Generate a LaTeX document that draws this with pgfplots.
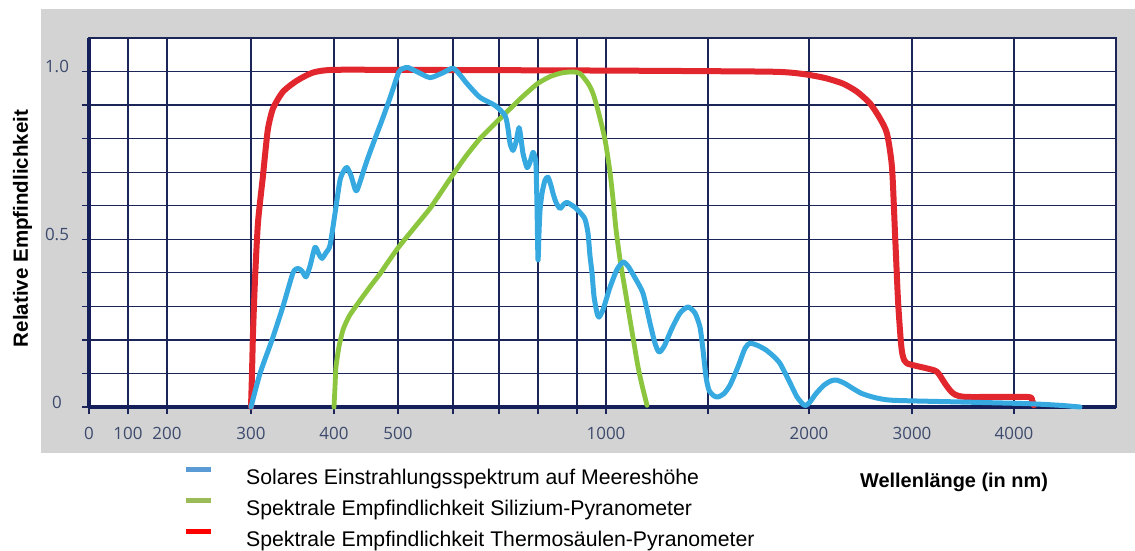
\documentclass[border=0pt]{standalone}
\usepackage{pgfplots}
\usepackage{pgfplotstable}
\pgfplotsset{compat=1.18}
\usepackage{fontspec}
\setmainfont{Liberation Sans}
\newfontfamily\tickfont{Open Sans}
\definecolor{bggray}{HTML}{D3D3D4}
\definecolor{navy}{HTML}{1B2557}
\definecolor{axnavy}{HTML}{15205A}
\definecolor{ticktxt}{HTML}{3C4A6C}
\definecolor{cred}{HTML}{E2262E}
\definecolor{cblue}{HTML}{37A9E1}
\definecolor{cgreen}{HTML}{8CC63F}
\definecolor{lblue}{HTML}{5B9BD5}
\definecolor{lgreen}{HTML}{9BBB59}
\definecolor{lred}{HTML}{FF0000}

% x = horizontal position on the (non-linear) wavelength scale, y = relative value
\pgfplotstableread{
pos val
251 0
252 0.1
253 0.22
255 0.38
258 0.55
263 0.69
265 0.75
268 0.83
273 0.89
283 0.94
297 0.973
313 0.997
333 1.005
400 1.005
600 1.003
760 1.0
790 0.997
809 0.99
826 0.98
843 0.964
857 0.94
870 0.905
880 0.86
887 0.815
892 0.714
895 0.518
898 0.318
901 0.19
903 0.15
907 0.13
927 0.115
937 0.105
945 0.07
950 0.05
955 0.037
967 0.03
1027 0.03
1032 0.02
1034 0.005
}\redtab

\pgfplotstableread{
pos val
251 0
260 0.1
272 0.2
283 0.3
293 0.4
298 0.413
302 0.405
306 0.388
310 0.42
315 0.476
319 0.455
322 0.443
326 0.46
330 0.482
335 0.577
340 0.676
344 0.705
347 0.714
351 0.69
355 0.65
357 0.646
361 0.68
367 0.735
375 0.8
383 0.863
391 0.93
399 1.0
404 1.01
408 1.012
418 0.998
430 0.982
442 0.995
453 1.01
460 0.99
467 0.964
480 0.923
495 0.899
505 0.869
508 0.83
510 0.786
513 0.765
516 0.79
519 0.833
521 0.8
523 0.756
527 0.714
530 0.73
533 0.759
535 0.745
536 0.72
537 0.6
538 0.438
539 0.52
540 0.586
542 0.637
545 0.676
548 0.685
551 0.66
553 0.637
556 0.61
560 0.592
564 0.605
567 0.61
571 0.603
575 0.595
580 0.58
585 0.56
588 0.518
590 0.45
592 0.4
594 0.33
597 0.28
599 0.268
603 0.29
610 0.357
617 0.41
623 0.432
628 0.42
635 0.385
643 0.339
650 0.25
655 0.19
659 0.164
664 0.18
672 0.235
680 0.28
688 0.298
695 0.28
700 0.238
703 0.17
706 0.09
709 0.05
714 0.033
718 0.03
724 0.04
730 0.065
738 0.12
745 0.175
750 0.19
758 0.183
766 0.17
774 0.15
780 0.13
787 0.09
792 0.06
797 0.03
803 0.008
806 0.005
810 0.015
816 0.04
824 0.065
831 0.078
837 0.08
845 0.07
853 0.055
862 0.04
875 0.028
893 0.02
960 0.015
1027 0.01
1060 0.005
1080 0
}\bluetab

\pgfplotstableread{
pos val
334 0
335 0.06
336 0.12
339 0.18
343 0.23
349 0.27
357 0.305
365 0.338
373 0.37
380 0.397
388 0.432
399 0.478
415 0.537
430 0.592
441 0.64
453 0.693
466 0.748
480 0.8
495 0.845
507 0.88
520 0.918
530 0.945
538 0.965
550 0.985
562 0.996
573 0.999
580 0.994
588 0.965
593 0.935
598 0.884
603 0.824
606 0.78
610 0.7
613 0.62
616 0.53
620 0.44
625 0.35
630 0.26
634 0.19
638 0.12
642 0.065
647 0.005
}\greentab

\begin{document}
\begin{tikzpicture}
\useasboundingbox (0bp,0bp) rectangle (1135bp,-551bp);
\fill[bggray] (41bp,-9bp) rectangle (1135bp,-453bp);
\begin{axis}[
  at={(89bp,-407bp)}, anchor=south west,
  scale only axis, width=1027bp, height=369bp,
  xmin=89, xmax=1116, ymin=0, ymax=1.1,
  clip=false,
  axis background/.style={fill=white},
  xtick={89,128,167,251,334,398,453,499,538,577,606,708,809,912,1014},
  xticklabels={0,100,200,300,400,500,,,,,1000,,2000,3000,4000},
  ytick={0,0.1,0.2,0.3,0.4,0.5,0.6,0.7,0.8,0.9,1.0},
  yticklabels={0,,,,,0.5,,,,,1.0},
  grid=major,
  major grid style={navy, line width=1.3bp},
  tick align=outside, xtick pos=lower, ytick pos=left,
  major tick length=7bp,
  tick style={navy, line width=1.3bp},
  axis line style={navy, line width=1.6bp},
  /pgf/number format/assume math mode=true,
  ticklabel style={font=\tickfont\fontsize{17}{17}\selectfont, text=ticktxt},
  xticklabel style={anchor=center, yshift=-19bp},
  yticklabel style={anchor=center, xshift=-25bp, yshift=5bp},
  xlabel={Wellenlänge (in nm)},
  xlabel style={at={(axis description cs:0.8423,-0.2168)}, anchor=base,
    font=\bfseries\fontsize{20}{20}\selectfont},
  ylabel={Relative Empfindlichkeit},
  ylabel style={at={(axis description cs:-0.0594,0.484)}, anchor=base,
    font=\bfseries\fontsize{20.6}{20.6}\selectfont},
  legend style={at={(axis description cs:0.0944,-0.1626)}, anchor=north west,
    draw=none, fill=none, inner sep=0pt, row sep=10bp, column sep=35bp,
    nodes={font=\fontsize{21.3}{21.3}\selectfont, inner sep=0pt, text height=15bp, text depth=4bp}},
  legend cell align=left,
  legend image code/.code={\fill (0bp,6.5bp) rectangle (25bp,11.5bp);},
]
\draw[axnavy, line width=4.5bp] (rel axis cs:0,0) -- (rel axis cs:1,0);
\draw[axnavy, line width=3.8bp] (rel axis cs:0,0) -- (rel axis cs:0,1);
\addplot[forget plot, cred, line width=6bp, smooth, tension=0.4, line join=round, line cap=round] table[x=pos, y=val] {\redtab};
\addplot[forget plot, cgreen, line width=4.8bp, smooth, tension=0.4, line join=round, line cap=round] table[x=pos, y=val] {\greentab};
\addplot[forget plot, cblue, line width=5bp, smooth, tension=0.4, line join=round, line cap=round] table[x=pos, y=val] {\bluetab};
\addlegendimage{fill=lblue, draw=none}
\addlegendentry{Solares Einstrahlungsspektrum auf Meereshöhe}
\addlegendimage{fill=lgreen, draw=none}
\addlegendentry{Spektrale Empfindlichkeit Silizium-Pyranometer}
\addlegendimage{fill=lred, draw=none}
\addlegendentry{Spektrale Empfindlichkeit Thermosäulen-Pyranometer}
\end{axis}
\end{tikzpicture}
\end{document}
